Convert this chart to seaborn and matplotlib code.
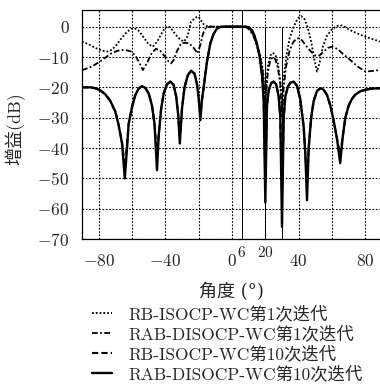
import matplotlib
matplotlib.use("Agg")
import matplotlib.pyplot as plt
import numpy as np
import pandas as pd
import seaborn as sns
from matplotlib.transforms import blended_transform_factory

# Beam patterns: angle (deg) and gain (dB) for each method / iteration
angle_rb1 = [-90, -86, -82, -78, -75, -72, -69, -66, -63, -60.5, -58.5, -56, -53, -50, -47.5,
             -45, -42.5, -40.5, -38.6, -36.5, -34, -31, -28.7, -26.5, -24.7, -22, -20, -18.5,
             -17, -15, -10, 0, 5, 8, 10, 12, 13.1, 15, 17, 18.5, 19.5, 20, 20.5, 21.5, 23, 24.5,
             26, 27.5, 29, 30, 31, 32.5, 34.5, 37, 39.5, 41.5, 43.5, 45.5, 47.5, 49.5, 51, 52.5,
             54.5, 57, 60, 63, 65, 67, 70, 75, 80, 85, 88.8]
gain_rb1 = [-4.9, -5.8, -7.0, -7.9, -8.2, -7.6, -5.8, -3.6, -1.7, -0.7, -0.5, -1.3, -3.5, -5.8, -6.6,
            -5.0, -2.5, -0.6, 0.2, -0.6, -2.5, -4.3, -4.9, -3.0, 1.5, 3.0, 3.3, 2.0,
            0.8, 0.2, 0.0, 0.0, 0.0, -0.2, -0.5, -1.8, -3.3, -6.0, -9.5, -14.0, -20.0, -28.0, -20.0, -13.0, -9.5, -8.6,
            -9.3, -12.0, -18.0, -26.0, -17.0, -10.0, -4.0, 0.0, 2.8, 3.5, 2.5, -0.5, -5.0, -11.0, -14.8, -12.0,
            -6.5, -3.0, -0.8, 0.2, 0.5, 0.2, -0.9, -2.2, -3.3, -4.2, -4.9]

angle_rab1 = [-90, -86, -82.4, -78, -75, -72.4, -69, -66.4, -63, -60.5, -58, -55.5, -53.5, -51, -48,
              -45.5, -43, -40, -38, -36.6, -35, -33, -30.6, -28, -25.7, -23, -20.7, -19, -17.5,
              -15.7, -13, 0, 8, 10, 12, 13.1, 15, 17, 18.5, 19.5, 20, 20.5, 21.5, 23, 24.5, 26,
              27.5, 29, 30, 31, 32.5, 34.5, 36.5, 38.5, 40, 42, 44, 47, 50, 52.5, 55, 57.5, 60,
              62, 64, 67, 71, 75, 80, 84, 88.8]
gain_rab1 = [-14.3, -13.6, -12.6, -11.0, -9.8, -8.8, -8.0, -7.7, -7.8, -8.2, -9.5, -12.0, -14.3, -12.0, -8.5,
             -7.3, -8.0, -10.0, -11.5, -12.1, -11.0, -8.0, -5.5, -5.3, -5.5, -7.0, -8.8, -6.0, -2.5,
             -0.3, 0.0, 0.0, 0.0, -0.8, -2.3, -3.3, -6.5, -10.5, -15.0, -22.0, -30.0, -22.0, -15.0, -11.0, -10.0, -10.8,
             -13.5, -19.0, -30.0, -20.0, -13.0, -8.0, -5.3, -4.0, -3.8, -4.5, -6.0, -8.0, -9.5, -9.5, -8.2, -7.0, -6.6,
             -7.0, -7.7, -9.2, -11.0, -13.0, -14.8, -14.6, -14.3]

angle_10 = [-90, -85, -82, -79, -76, -73, -70, -68, -66, -64.3, -63, -62, -60, -58, -56, -54, -52, -50,
            -48, -46.5, -45, -44, -42.5, -41, -39, -37, -35, -33.5, -32.3, -31.3, -30, -28.5, -26.5,
            -24.5, -22.5, -21, -20, -19, -18, -16.7, -15, -13, -11, -9, -7, -4, 0, 4, 8, 10, 12,
            13.5, 15, 16.5, 18, 19, 20, 21, 22, 23.5, 25, 26.5, 28, 29, 30, 31, 32, 33.5, 35, 37,
            39, 41, 43, 44, 45, 46, 47.5, 49, 51, 53, 55, 57, 59, 61, 63, 64.9, 66.5, 68, 70, 72,
            74, 77, 80, 84, 88.8]
gain_rab10 = [-20.0, -20.0, -20.3, -21.0, -22.3, -24.5, -28.0, -32.5, -38.5, -50.0, -40.0, -32.0, -26.5,
              -22.5, -20.4, -19.6, -20.2, -22.0, -26.0, -32.0, -47.3, -36.0, -27.0, -22.0, -19.0, -18.1,
              -19.2, -23.0, -29.0, -38.5, -27.0, -20.0, -16.0, -14.5, -15.5, -19.0, -23.5, -30.8, -24.0,
              -18.7, -11.5, -5.5, -2.3, -0.6, -0.1, 0.0, 0.0, 0.0, 0.0, -0.2, -1.2, -3.0, -5.8, -9.5,
              -16.0, -24.0, -58.0, -26.0, -21.0, -18.6, -18.1, -19.0, -23.0, -30.0, -66.0, -30.0, -23.0,
              -19.8, -18.5, -18.1, -19.5, -24.0, -33.0, -42.0, -57.2, -40.0, -30.0, -24.5, -21.2, -20.3,
              -20.8, -22.5, -26.0, -31.0, -37.0, -45.0, -36.0, -30.0, -26.0, -23.8, -22.4, -21.3, -20.8,
              -20.4, -20.3]
gain_rb10 = [-20.0, -20.0, -20.3, -21.0, -22.3, -24.5, -28.0, -32.5, -38.0, -46.0, -39.0, -32.0, -26.5,
             -22.5, -20.4, -19.6, -20.2, -22.0, -26.0, -32.0, -44.0, -35.5, -27.0, -22.0, -19.0, -18.1,
             -19.2, -23.0, -29.0, -36.0, -27.0, -20.0, -16.0, -14.5, -15.5, -19.0, -23.5, -29.0, -24.0,
             -18.7, -11.5, -5.5, -2.3, -0.6, -0.1, 0.0, 0.0, 0.0, 0.0, -0.2, -1.2, -3.0, -5.8, -9.5,
             -16.0, -24.0, -50.0, -26.0, -21.0, -18.6, -18.1, -19.0, -23.0, -30.0, -55.0, -30.0, -23.0,
             -19.8, -18.5, -18.1, -19.5, -24.0, -33.0, -42.0, -52.0, -40.0, -30.0, -24.5, -21.2, -20.3,
             -20.8, -22.5, -26.0, -31.0, -37.0, -42.0, -36.0, -30.0, -26.0, -23.8, -22.4, -21.3, -20.8,
             -20.4, -20.3]

labels = ["RB-ISOCP-WC第1次迭代", "RAB-DISOCP-WC第1次迭代",
          "RB-ISOCP-WC第10次迭代", "RAB-DISOCP-WC第10次迭代"]
marker_angles = [6, 20, 30]          # signal / interference directions
xtick_major = [-80, -40, 0, 40, 80]
xtick_minor_labels = [6, 20]
ytick_vals = [0, -10, -20, -30, -40, -50, -60, -70]

sns.set_theme(style="white")
plt.rcParams["font.family"] = ["cmr10", "Noto Sans CJK SC", "DejaVu Sans"]
plt.rcParams["mathtext.fontset"] = "cm"
plt.rcParams["axes.unicode_minus"] = False

fig = plt.figure(figsize=(3.8, 3.92), dpi=100)
ax = fig.add_axes([82 / 380, 1 - 239 / 392, 1 - 82 / 380, 229 / 392])

series = [
    (angle_rb1, gain_rb1, labels[0], (0, (1, 1.1)), 1.3),
    (angle_rab1, gain_rab1, labels[1], (0, (3.2, 1.3, 1, 1.3)), 1.3),
    (angle_10, gain_rb10, labels[2], (0, (3, 1.5)), 1.5),
    (angle_10, gain_rab10, labels[3], "-", 1.7),
]
for xs, ys, lab, ls, lw in series:
    df = pd.DataFrame({"angle": xs, "gain": ys})
    sns.lineplot(data=df, x="angle", y="gain", ax=ax, color="black",
                 linestyle=ls, linewidth=lw, label=lab, estimator=None, sort=False)

# thin markers at the signal and interference angles
ax.vlines(marker_angles[0], -70, 5.5, color="black", linewidth=0.7, zorder=1)
ax.vlines(marker_angles[1:], -70, 0, color="black", linewidth=0.7, zorder=1)

ax.set_xlim(-90, 88.8)
ax.set_ylim(-70, 5.5)
ax.set_xticks(np.arange(-80, 81, 20))
ax.set_xticklabels([f"${v}$" if v in xtick_major else "" for v in np.arange(-80, 81, 20)],
                   fontsize=12.5)
ax.set_yticks(ytick_vals)
ax.set_yticklabels([f"${v}$" for v in ytick_vals], fontsize=12.5)
ax.tick_params(axis="both", direction="in", length=3, width=0.8, color="black")
ax.tick_params(axis="y", pad=9)
ax.tick_params(axis="x", pad=10)

trans = blended_transform_factory(ax.transData, ax.transAxes)
for v in xtick_minor_labels:
    ax.text(v, -0.028, f"${v}$", transform=trans, ha="center", va="top", fontsize=11)

ax.grid(True, color="black", linestyle=(0, (1.5, 1.5)), linewidth=0.8)
for side in ["top", "left", "bottom"]:
    ax.spines[side].set_color("black")
    ax.spines[side].set_linewidth(0.9)
ax.spines["right"].set_visible(False)

ax.set_xlabel("角度 (°)", fontsize=13, family=["DejaVu Serif", "Noto Sans CJK SC"])
ax.xaxis.set_label_coords(0.5, -0.19)
ax.set_ylabel("增益(dB)", fontsize=13)
ax.yaxis.set_label_coords(-0.19, 0.48)

handles, labs = ax.get_legend_handles_labels()
ax.get_legend().remove()
fig.legend(handles, labs, loc="upper left", bbox_to_anchor=(92 / 380, 1 - 305 / 392),
           frameon=False, fontsize=12.5, handlelength=1.15, handletextpad=0.92,
           labelspacing=0.18, borderpad=0, borderaxespad=0)

fig.savefig("out.png", dpi=100)
